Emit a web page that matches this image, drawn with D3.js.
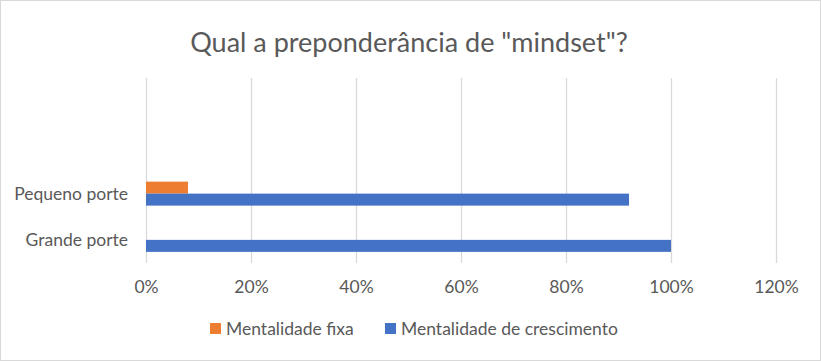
<!DOCTYPE html>
<html><head><meta charset="utf-8">
<script src="https://cdn.jsdelivr.net/npm/d3@7"></script>
<style>
html,body{margin:0;padding:0;background:#fff;}
text{font-family:Lato,"Open Sans",sans-serif;fill:#595959;}
</style></head>
<body>
<svg id="c" width="821" height="361"></svg>
<script>
const title = 'Qual a preponderância de "mindset"?';
const categories = ["Grande porte", "Pequeno porte", "", ""];
const seriesNames = ["Mentalidade fixa", "Mentalidade de crescimento"];
const fixa = [0.00, 0.08, null, null];
const crescimento = [1.00, 0.92, null, null];
const tickValues = [0, 0.2, 0.4, 0.6, 0.8, 1.0, 1.2];
const colors = ["#ED7D31", "#4472C4"];

const FS = 17.5;
const svg = d3.select("#c");
svg.append("rect").attr("x",0.5).attr("y",0.5).attr("width",820).attr("height",360)
  .attr("fill","#fff").attr("stroke","#d9d9d9");

const x = d3.scaleLinear().domain([0, 1.2]).range([146, 776]);
const plotTop = 78, plotBottom = 263;
const y = d3.scaleBand().domain(d3.range(categories.length)).range([plotBottom, plotTop])
  .paddingInner(0.481).paddingOuter(0.2405);
const ys = d3.scaleBand().domain([0,1]).range([0, y.bandwidth()]);

// gridlines + x labels
const xAxis = d3.axisBottom(x).tickValues(tickValues).tickFormat(d3.format(".0%"))
  .tickSize(-(plotBottom - plotTop)).tickPadding(0);
const gx = svg.append("g").attr("transform", `translate(0,${plotBottom})`).call(xAxis);
gx.select(".domain").remove();
gx.selectAll(".tick line").attr("stroke", "#d9d9d9").attr("stroke-width", 1.3);
gx.selectAll(".tick text").attr("y", 30).attr("dy", 0).attr("font-size", FS).attr("fill","#595959")
  .style("font-family","Lato,'Open Sans',sans-serif");

// bars
const series = [fixa, crescimento];
series.forEach((vals, si) => {
  svg.append("g").selectAll("rect").data(vals.map((v,i)=>({v,i})).filter(d=>d.v!==null))
    .join("rect")
    .attr("x", x(0))
    .attr("y", d => y(d.i) + ys(si))
    .attr("width", d => x(d.v) - x(0))
    .attr("height", ys.bandwidth())
    .attr("fill", colors[si]);
});

// category labels
const yAxis = d3.axisLeft(y).tickSize(0).tickPadding(18).tickFormat(i => categories[i]);
const gy = svg.append("g").attr("transform", `translate(${x(0)},0)`).call(yAxis);
gy.select(".domain").remove();
gy.selectAll(".tick text").attr("font-size", FS).attr("fill","#595959").attr("dy","0.34em")
  .style("font-family","Lato,'Open Sans',sans-serif");

// title
svg.append("text").attr("x", 409).attr("y", 52).attr("text-anchor","middle")
  .attr("font-size", 27).text(title);

// legend
const legX = [210, 385];
seriesNames.forEach((n, i) => {
  svg.append("rect").attr("x", legX[i]).attr("y", 323).attr("width", 11).attr("height", 11).attr("fill", colors[i]);
  svg.append("text").attr("x", legX[i] + 16).attr("y", 335).attr("font-size", FS).text(n);
});
</script>
</body></html>
